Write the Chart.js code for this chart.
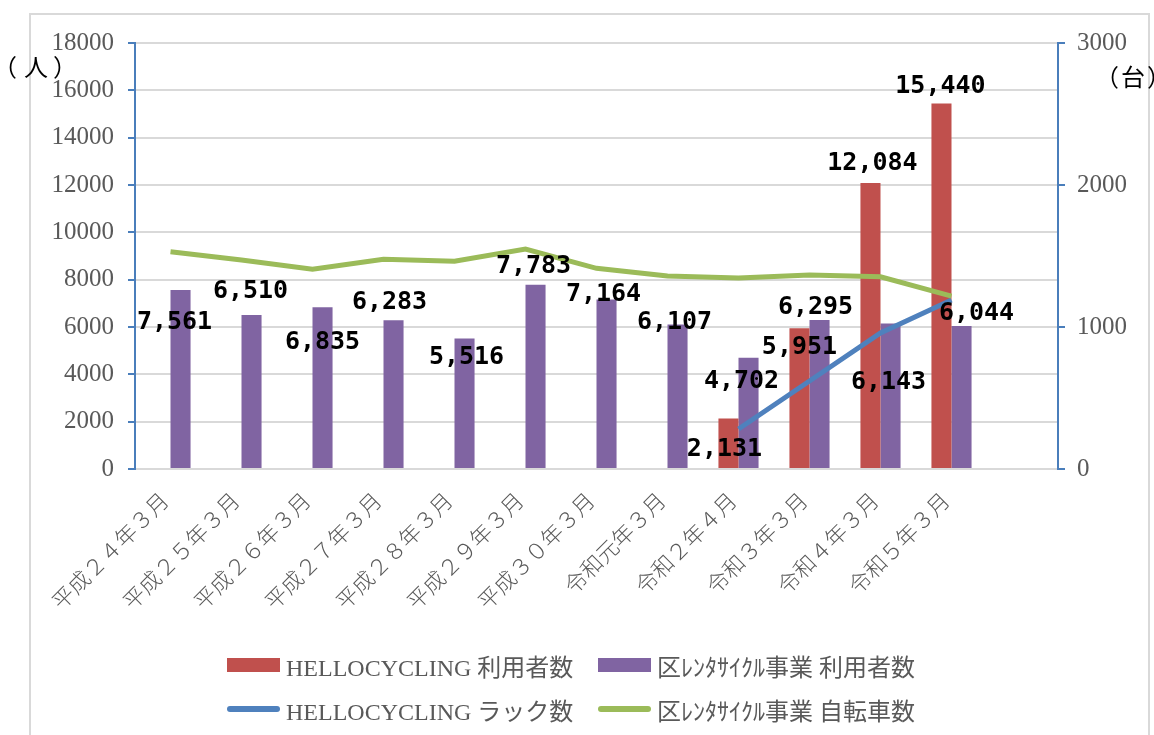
<!DOCTYPE html>
<html>
  <head>
    <title>HELLOCYCLING</title>
    <script src="https://cdn.jsdelivr.net/npm/chart.js"></script>
    <style>
      body,
      html {
        margin: 0;
        width: 100%;
        height: 100%;
        overflow: hidden;
        background-color: white;
      }
      #wrap {
        position: relative;
        width: 1154px;
        height: 735px;
      }
      #frame {
        position: absolute;
        left: 29px;
        top: 13px;
        width: 1121px;
        height: 740px;
        border: 2px solid #d9d9d9;
        box-sizing: border-box;
      }
      .unit {
        position: absolute;
        font: 24px "Noto Sans CJK JP";
        color: #000;
        white-space: nowrap;
      }
      .unit span {
        display: inline-block;
        position: relative;
        width: 24px;
        text-align: center;
      }
      #legend {
        position: absolute;
        left: 227px;
        top: 643px;
        font: 24px "Liberation Serif", "Noto Sans CJK JP";
        color: #595959;
      }
      .row {
        display: flex;
        align-items: center;
        height: 44px;
      }
      .item {
        display: flex;
        align-items: center;
        white-space: nowrap;
      }
      .sw {
        width: 53px;
        margin-right: 6px;
      }
    </style>
  </head>
  <body>
    <div id="wrap">
      <div id="frame"></div>
      <canvas id="chartCanvas" width="1154" height="735"></canvas>
      <div class="unit" style="left: 0px; top: 48px"><span style="left: -7px">（</span><span>人</span><span style="left: 5px">）</span></div>
      <div class="unit" style="left: 1097px; top: 58px"><span style="left: -2px">（</span><span>台</span><span style="left: 2px">）</span></div>
      <div id="legend"></div>
    </div>
    <script>
      // categories (last one is an empty slot, as in the original sheet)
      var labels = [
        "平成２４年３月", "平成２５年３月", "平成２６年３月", "平成２７年３月",
        "平成２８年３月", "平成２９年３月", "平成３０年３月", "令和元年３月",
        "令和２年４月", "令和３年３月", "令和４年３月", "令和５年３月", ""
      ];
      var helloUsers = [null, null, null, null, null, null, null, null, 2131, 5951, 12084, 15440, null];
      var kuUsers = [7561, 6510, 6835, 6283, 5516, 7783, 7164, 6107, 4702, 6295, 6143, 6044, null];
      var helloRacks = [null, null, null, null, null, null, null, null, 282, 620, 958, 1190, null];
      var kuBikes = [1530, 1472, 1406, 1477, 1463, 1549, 1413, 1359, 1345, 1366, 1354, 1218, null];

      // hand-placed label nudges [dx, dy] from the bar top
      var helloShift = [null, null, null, null, null, null, null, null, [-4, 31], [0, 19], [2, -20], [-1, -17], null];
      var kuShift = [[-6, 32], [-1, -23], [0, 35], [-4, -18], [2, 19], [-2, -18], [-3, -5], [-3, -2], [-7, 24], [-4, -13], [-2, 59], [15, -12], null];

      var blue = "#4a7ebb";
      var tickFont = { family: "Liberation Serif", size: 25 };

      var barLabels = {
        id: "barLabels",
        afterDatasetsDraw: function (chart) {
          var ctx = chart.ctx;
          var shifts = [helloShift, kuShift];
          ctx.save();
          ctx.font = "bold 25px 'DejaVu Sans Mono'";
          ctx.fillStyle = "#000";
          ctx.textAlign = "center";
          ctx.textBaseline = "middle";
          [0, 1].forEach(function (i) {
            var ds = chart.data.datasets[i];
            chart.getDatasetMeta(i).data.forEach(function (bar, j) {
              var v = ds.data[j];
              if (v == null) return;
              var s = shifts[i][j];
              ctx.fillText(v.toLocaleString("en-US"), bar.x + s[0], bar.y + s[1]);
            });
          });
          ctx.restore();
        },
      };

      var plain = function (v) {
        return String(v);
      };

      var ctx = document.getElementById("chartCanvas");

      var chart = new Chart(ctx, {
        type: "bar",
        data: {
          labels: labels,
          datasets: [
            {
              label: "HELLOCYCLING 利用者数",
              data: helloUsers,
              backgroundColor: "#c0504d",
              yAxisID: "y",
              order: 2,
            },
            {
              label: "区ﾚﾝﾀｻｲｸﾙ事業 利用者数",
              data: kuUsers,
              backgroundColor: "#8064a2",
              yAxisID: "y",
              order: 2,
            },
            {
              type: "line",
              label: "HELLOCYCLING ラック数",
              data: helloRacks,
              borderColor: "#4f81bd",
              backgroundColor: "#4f81bd",
              borderWidth: 5,
              pointRadius: 0,
              tension: 0,
              yAxisID: "y2",
              order: 1,
            },
            {
              type: "line",
              label: "区ﾚﾝﾀｻｲｸﾙ事業 自転車数",
              data: kuBikes,
              borderColor: "#9bbb59",
              backgroundColor: "#9bbb59",
              borderWidth: 5,
              pointRadius: 0,
              tension: 0,
              yAxisID: "y2",
              order: 0,
            },
          ],
        },
        options: {
          responsive: false,
          animation: false,
          layout: { padding: { top: 43, left: 0, right: 0, bottom: 0 } },
          datasets: {
            bar: { categoryPercentage: 0.565, barPercentage: 1.0 },
          },
          scales: {
            x: {
              grid: { display: false },
              border: { display: true, color: "#d9d9d9", width: 2 },
              ticks: {
                color: "#595959",
                font: { family: "Noto Sans CJK JP", size: 22, weight: 300 },
                minRotation: 45,
                maxRotation: 45,
                autoSkip: false,
                padding: 10,
                labelOffset: -6,
              },
              afterFit: function (scale) {
                scale.height = 266;
              },
            },
            y: {
              position: "left",
              min: 0,
              max: 18000,
              ticks: {
                stepSize: 2000,
                color: "#595959",
                font: tickFont,
                padding: 14,
                callback: plain,
              },
              grid: {
                color: "#d9d9d9",
                lineWidth: 2,
                tickColor: blue,
                tickLength: 7,
              },
              border: { color: blue, width: 2 },
              afterFit: function (scale) {
                scale.width = 135;
              },
            },
            y2: {
              position: "right",
              min: 0,
              max: 3000,
              ticks: {
                stepSize: 1000,
                color: "#595959",
                font: tickFont,
                padding: 12,
                callback: plain,
              },
              grid: {
                drawOnChartArea: false,
                tickColor: blue,
                tickLength: 7,
                lineWidth: 2,
              },
              border: { color: blue, width: 2 },
              afterFit: function (scale) {
                scale.width = 96;
              },
            },
          },
          plugins: {
            legend: { display: false },
            tooltip: { enabled: false },
          },
        },
        plugins: [barLabels],
      });

      // two-row legend like the original sheet
      var legend = document.getElementById("legend");
      var rows = [[0, 1], [2, 3]];
      rows.forEach(function (r) {
        var row = document.createElement("div");
        row.className = "row";
        r.forEach(function (i, k) {
          var ds = chart.data.datasets[i];
          var item = document.createElement("div");
          item.className = "item";
          if (k === 0) item.style.width = "371px";
          var sw = document.createElement("div");
          sw.className = "sw";
          if (ds.type === "line") {
            sw.style.height = "6px";
            sw.style.borderRadius = "3px";
          } else {
            sw.style.height = "14px";
          }
          sw.style.background = ds.borderColor || ds.backgroundColor;
          var tx = document.createElement("span");
          tx.textContent = ds.label;
          item.appendChild(sw);
          item.appendChild(tx);
          row.appendChild(item);
        });
        legend.appendChild(row);
      });
    </script>
  </body>
</html>
